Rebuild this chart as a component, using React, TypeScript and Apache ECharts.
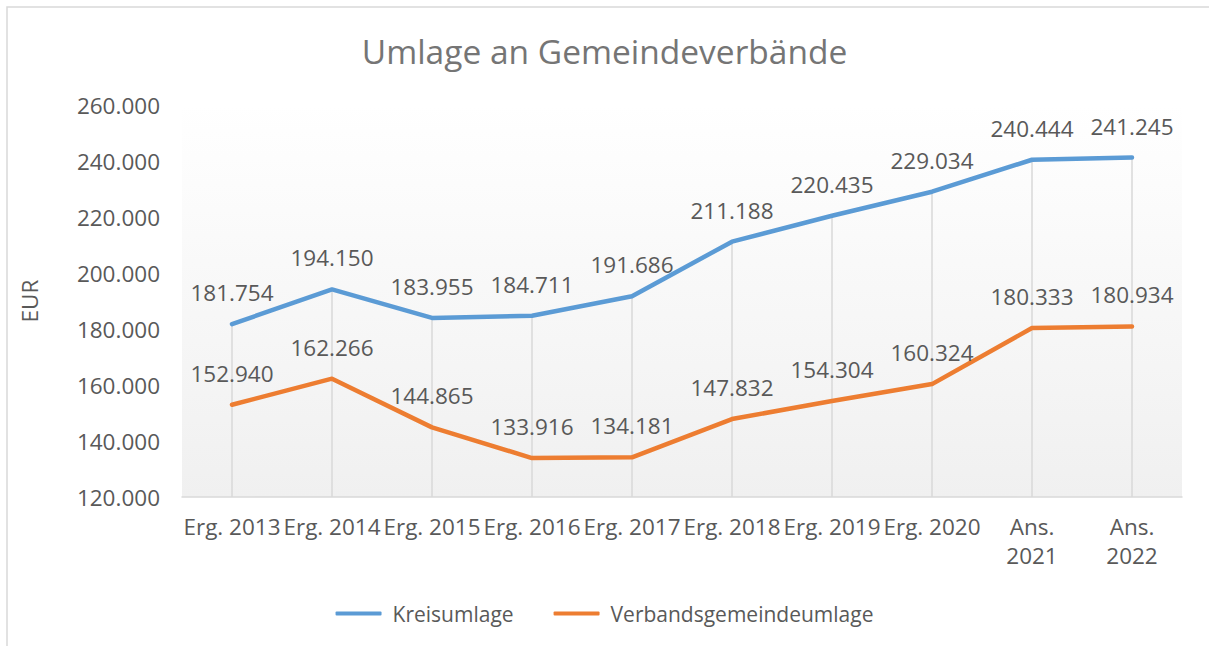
import React, { useEffect, useRef } from "react";
import * as echarts from "echarts";

const categories = [
  "Erg. 2013", "Erg. 2014", "Erg. 2015", "Erg. 2016", "Erg. 2017",
  "Erg. 2018", "Erg. 2019", "Erg. 2020", "Ans.\n2021", "Ans.\n2022",
];
const kreisumlage = [181754, 194150, 183955, 184711, 191686, 211188, 220435, 229034, 240444, 241245];
const verbandsumlage = [152940, 162266, 144865, 133916, 134181, 147832, 154304, 160324, 180333, 180934];
const yMin = 120000;
const yMax = 260000;
const yStep = 20000;

const fmt = (v: number) => {
  const s = Math.round(v).toString();
  return s.replace(/\B(?=(\d{3})+(?!\d))/g, ".");
};

const FONT = "'Open Sans', 'Noto Sans', sans-serif";
const FS = 22.5;

export default function App() {
  const ref = useRef<HTMLDivElement>(null);
  useEffect(() => {
    if (!ref.current) return;
    const chart = echarts.init(ref.current, undefined, { renderer: "svg" });
    const dropLines = kreisumlage.map((v, i) => [
      { coord: [i, v] },
      { coord: [i, yMin] },
    ]);
    const dataLabel = {
      show: true,
      position: "top",
      distance: 20,
      fontFamily: FONT,
      fontSize: FS,
      color: "#595959",
      formatter: (p: any) => fmt(p.value),
    };
    chart.setOption({
      animation: false,
      backgroundColor: "#ffffff",
      textStyle: { fontFamily: FONT },
      title: {
        text: "Umlage an Gemeindeverbände",
        left: "center",
        top: 29,
        textStyle: { fontFamily: FONT, fontSize: 33.5, fontWeight: "normal", color: "#757575" },
      },
      graphic: [
        {
          type: "rect",
          shape: { x: 7, y: 7, width: 1230, height: 680 },
          style: { fill: "none", stroke: "#d9d9d9", lineWidth: 1.5 },
          silent: true,
          z: -10,
        },
        {
          type: "text",
          x: 29,
          y: 301,
          rotation: Math.PI / 2,
          style: {
            text: "EUR",
            font: `${FS}px ${FONT}`,
            fill: "#595959",
            align: "center",
            verticalAlign: "middle",
          },
        },
      ],
      legend: {
        bottom: 17,
        left: "center",
        itemWidth: 46,
        itemHeight: 4,
        itemGap: 40,
        icon: "roundRect",
        textStyle: { fontFamily: FONT, fontSize: 21, color: "#595959", padding: [0, 0, 0, 6] },
        data: ["Kreisumlage", "Verbandsgemeindeumlage"],
      },
      grid: {
        left: 182,
        right: 27,
        top: 105,
        bottom: 149,
        show: true,
        borderWidth: 0,
        backgroundColor: new echarts.graphic.LinearGradient(0, 0, 0, 1, [
          { offset: 0, color: "#ffffff" },
          { offset: 1, color: "#f0f0f0" },
        ]),
      },
      xAxis: {
        type: "category",
        data: categories,
        boundaryGap: true,
        axisLine: { show: true, lineStyle: { color: "#d9d9d9", width: 1.5 } },
        axisTick: { show: false },
        axisLabel: {
          fontFamily: FONT,
          fontSize: FS,
          color: "#595959",
          margin: 15,
          lineHeight: 29,
          interval: 0,
        },
        splitLine: { show: false },
      },
      yAxis: {
        type: "value",
        min: yMin,
        max: yMax,
        interval: yStep,
        axisLine: { show: false },
        axisTick: { show: false },
        splitLine: { show: false },
        axisLabel: {
          fontFamily: FONT,
          fontSize: FS,
          color: "#595959",
          margin: 22,
          formatter: (v: number) => fmt(v),
        },
      },
      series: [
        {
          name: "Kreisumlage",
          type: "line",
          data: kreisumlage,
          symbol: "circle",
          symbolSize: 0,
          showSymbol: true,
          z: 3,
          lineStyle: { color: "#5b9bd5", width: 4.5, cap: "round", join: "round" },
          itemStyle: { color: "#5b9bd5" },
          label: dataLabel,
          markLine: {
            silent: true,
            symbol: ["none", "none"],
            label: { show: false },
            lineStyle: { color: "#d9d9d9", width: 1.5, type: "solid" },
            z: 1,
            data: dropLines,
          },
        },
        {
          name: "Verbandsgemeindeumlage",
          type: "line",
          data: verbandsumlage,
          symbol: "circle",
          symbolSize: 0,
          showSymbol: true,
          z: 3,
          lineStyle: { color: "#ed7d31", width: 4.5, cap: "round", join: "round" },
          itemStyle: { color: "#ed7d31" },
          label: dataLabel,
        },
      ],
    });
    return () => chart.dispose();
  }, []);
  return <div ref={ref} style={{ width: 1209, height: 646, position: "absolute", left: 0, top: 0 }} />;
}
